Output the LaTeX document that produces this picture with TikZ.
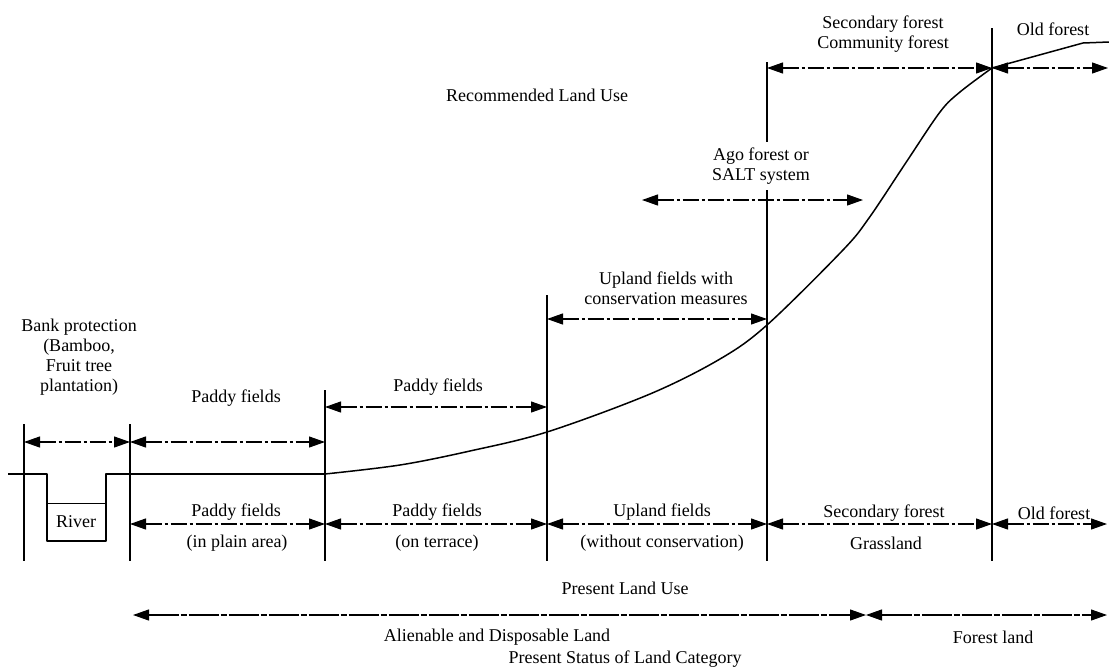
\documentclass[tikz,border=0pt]{standalone}
\usepackage{fontspec}
\setmainfont{Liberation Serif}
\usetikzlibrary{arrows.meta}
\begin{document}
\begin{tikzpicture}[x=1pt,y=-1pt,
  lbl/.style={inner sep=0pt,font=\fontsize{18}{20}\selectfont,align=center},
  divider/.style={line width=2.8pt},
  span/.style={line width=1.1pt,dash pattern=on 16pt off 3pt on 3pt off 3pt,
    {Triangle[length=16pt,width=11pt]}-{Triangle[length=16pt,width=11pt]}},
  catspan/.style={line width=1.1pt,dash pattern=on 30pt off 2pt on 6pt off 2pt,
    {Triangle[length=16pt,width=11pt]}-{Triangle[length=16pt,width=11pt]}},
  ground/.style={line width=1.5pt,line join=round}]
\useasboundingbox[fill=white] (0,0) rectangle (1109,672);

% vertical dividers
\coordinate (vAt) at (24,424);  \coordinate (vAb) at (24,561);
\coordinate (vBt) at (130,424); \coordinate (vBb) at (130,561);
\coordinate (vCt) at (325,390); \coordinate (vCb) at (325,561);
\coordinate (vDt) at (547,295); \coordinate (vDb) at (547,561);
\coordinate (vEt) at (767,62);  \coordinate (vEm) at (767,142);
\coordinate (vEn) at (767,190); \coordinate (vEb) at (767,561);
\coordinate (vFt) at (992,28);  \coordinate (vFb) at (992,561);
\draw[divider] (vAt) -- (vAb);
\draw[divider] (vBt) -- (vBb);
\draw[divider] (vCt) -- (vCb);
\draw[divider] (vDt) -- (vDb);
\draw[divider] (vEt) -- (vEm);
\draw[divider] (vEn) -- (vEb);
\draw[divider] (vFt) -- (vFb);

% ground profile and river
\coordinate (g0) at (8,474);
\coordinate (rl) at (47,474);
\coordinate (rbl) at (47,541);
\coordinate (rbr) at (106,541);
\coordinate (rr) at (106,474);
\coordinate (g1) at (325,474);
\coordinate (g2) at (1083,43);
\coordinate (g3) at (1109,42);
\coordinate (wl) at (47,503);
\coordinate (wr) at (106,503);
\draw[ground] (g0) -- (rl) -- (rbl) -- (rbr) -- (rr) -- (g1);
\draw[line width=1pt] (wl) -- (wr);
\draw[ground] plot[smooth,tension=0.55] coordinates {(325,474) (400,465) (470,451) (547,432) (650,394) (720,359) (767,325) (843,250) (869,218) (905,164) (940,112) (960,92) (992,68)};
\draw[ground] (992,68) -- (g2) -- (g3);
\node[lbl] (river) at (76,522) {River};

% recommended land use spans
\coordinate (r1a) at (24,442);  \coordinate (r1b) at (130,442);
\coordinate (r2a) at (130,442); \coordinate (r2b) at (325,442);
\coordinate (r3a) at (325,407); \coordinate (r3b) at (547,407);
\coordinate (r4a) at (547,319); \coordinate (r4b) at (767,319);
\coordinate (r5a) at (642,200); \coordinate (r5b) at (863,200);
\coordinate (r6a) at (767,68);  \coordinate (r6b) at (992,68);
\coordinate (r7a) at (992,68);  \coordinate (r7b) at (1108,68);
\draw[span] (r1a) -- (r1b);
\draw[span] (r2a) -- (r2b);
\draw[span] (r3a) -- (r3b);
\draw[span] (r4a) -- (r4b);
\draw[span] (r5a) -- (r5b);
\draw[span] (r6a) -- (r6b);
\draw[span] (r7a) -- (r7b);

\node[lbl] (bank) at (79,357) {Bank protection\\(Bamboo,\\Fruit tree\\plantation)};
\node[lbl] (rp1) at (236,398) {Paddy fields};
\node[lbl] (rp2) at (438,387) {Paddy fields};
\node[lbl] (rup) at (666,288) {Upland fields with\\conservation measures};
\node[lbl] (ragro) at (761,166) {Ago forest or\\SALT system};
\node[lbl] (rsec) at (883,34) {Secondary forest\\Community forest};
\node[lbl] (rold) at (1053,29) {Old forest};
\node[lbl] (rtitle) at (537,95) {Recommended Land Use};

% present land use spans
\coordinate (p1a) at (130,524); \coordinate (p1b) at (325,524);
\coordinate (p2a) at (325,524); \coordinate (p2b) at (547,524);
\coordinate (p3a) at (547,524); \coordinate (p3b) at (767,524);
\coordinate (p4a) at (767,524); \coordinate (p4b) at (992,524);
\coordinate (p5a) at (992,524); \coordinate (p5b) at (1107,524);
\draw[span] (p1a) -- (p1b);
\draw[span] (p2a) -- (p2b);
\draw[span] (p3a) -- (p3b);
\draw[span] (p4a) -- (p4b);
\draw[span] (p5a) -- (p5b);
\node[lbl] (pp1) at (236,512) {Paddy fields};
\node[lbl] (pp1b) at (237,543) {(in plain area)};
\node[lbl] (pp2) at (437,512) {Paddy fields};
\node[lbl] (pp2b) at (437,543) {(on terrace)};
\node[lbl] (pup) at (662,512) {Upland fields};
\node[lbl] (pupb) at (662,543) {(without conservation)};
\node[lbl] (psec) at (884,513) {Secondary forest};
\node[lbl] (psecb) at (886,543) {Grassland};
\node[lbl] (pold) at (1054,513) {Old forest};
\node[lbl] (ptitle) at (625,588) {Present Land Use};

% land category
\coordinate (c1a) at (133,615); \coordinate (c1b) at (866,615);
\coordinate (c2a) at (866,615); \coordinate (c2b) at (1107,615);
\draw[catspan] (c1a) -- (c1b);
\draw[catspan] (c2a) -- (c2b);
\node[lbl] (cad) at (497,637) {Alienable and Disposable Land};
\node[lbl] (cfl) at (993,637) {Forest land};
\node[lbl] (ctitle) at (625,659) {Present Status of Land Category};
\end{tikzpicture}
\end{document}
